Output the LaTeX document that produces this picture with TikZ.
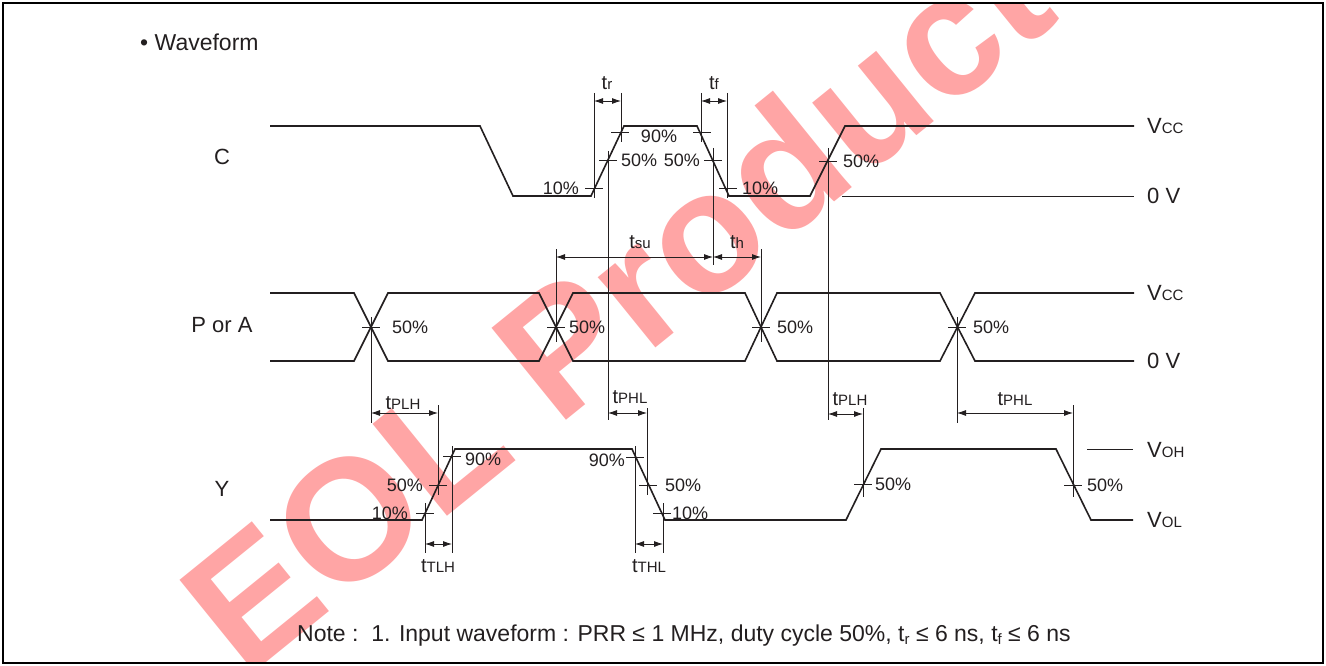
\documentclass[tikz,border=0pt]{standalone}
\usepackage{fontspec}
\setmainfont{Liberation Sans}
\usetikzlibrary{positioning,arrows.meta}
\definecolor{ink}{RGB}{35,31,32}
\definecolor{eol}{RGB}{255,165,165}
\tikzstyle{wave} = [draw=ink, line width=1.6pt, line join=miter]
\tikzstyle{guide} = [draw=ink, line width=0.8pt]
\tikzstyle{dim} = [guide, {Latex[length=9pt,width=6pt]}-{Latex[length=9pt,width=6pt]}]
\tikzstyle{lbl} = [inner sep=0pt, text=ink, font=\fontsize{22}{24}\selectfont]
\tikzstyle{pct} = [inner sep=0pt, text=ink, font=\fontsize{18}{20}\selectfont]
\tikzstyle{tlbl} = [inner sep=0pt, text=ink, anchor=base, font=\fontsize{20}{22}\selectfont]
\newcommand{\lo}[1]{{\fontsize{15}{15}\selectfont #1}}
\newcommand{\lvltick}[2]{\draw[guide] (#1-9,#2) -- (#1+9,#2);}

\begin{document}
\begin{tikzpicture}[x=1pt, y=-1pt]
    \useasboundingbox (0,0) rectangle (1326,666);
    % watermark
    \begin{scope}
        \clip (3,3) rectangle (1323,663);
        \node[rotate=39, anchor=base west, inner sep=0pt, text=eol, font=\fontsize{172}{172}\selectfont\bfseries] (eolmark) at (245,680) {EOL Products};
    \end{scope}
    \draw[line width=2pt] (3,3) rectangle (1323,663);
    \node[lbl, anchor=west, font=\fontsize{23}{25}\selectfont] (title) at (140,42) {• Waveform};

    % C
    \node[lbl, anchor=base] (sigC) at (222,165) {C};
    \draw[wave] (270,126) -- (480,126) -- (513,196) -- (591,196) -- (624,126) -- (697,126) -- (729,196) -- (810,196) -- (845,126) -- (1134,126);
    \draw[guide] (842,196) -- (1134,196);
    \node[lbl, anchor=west] (vccC) at (1147,126) {V\lo{CC}};
    \node[lbl, anchor=west] (gndC) at (1147,196) {0 V};

    \draw[guide] (594,93) -- (594,198);
    \draw[guide] (621,93) -- (621,142);
    \draw[guide] (701,93) -- (701,142);
    \draw[guide] (727,93) -- (727,198);
    \draw[guide] (608,151) -- (608,420);
    \draw[guide] (713,148) -- (713,265);
    \draw[guide] (828,148) -- (828,420);
    \lvltick{594}{188} \lvltick{608}{160} \lvltick{620}{132}
    \lvltick{702}{132} \lvltick{713}{160} \lvltick{728}{188}
    \lvltick{828}{161}

    \draw[dim] (594,101) -- (621,101);
    \node[tlbl] (tr) at (607,90) {t\lo{r}};
    \draw[dim] (701,101) -- (727,101);
    \node[tlbl] (tf) at (714,90) {t\lo{f}};

    \node[pct, anchor=east] (c10a) at (579,188) {10\%};
    \node[pct, anchor=west] (c50a) at (621,160) {50\%};
    \node[pct] (c90) at (659,136) {90\%};
    \node[pct, anchor=east] (c50b) at (700,160) {50\%};
    \node[pct, anchor=west] (c10b) at (742,188) {10\%};
    \node[pct, anchor=west] (c50c) at (843,161) {50\%};

    % P or A
    \node[lbl, anchor=base] (sigP) at (222,332) {P or A};
    \draw[wave] (270,293) -- (354,293) -- (388,361) -- (539,361) -- (573,293) -- (745,293) -- (777,361) -- (940,361) -- (975,293) -- (1134,293);
    \draw[wave] (270,361) -- (354,361) -- (388,293) -- (539,293) -- (573,361) -- (745,361) -- (777,293) -- (940,293) -- (975,361) -- (1134,361);
    \node[lbl, anchor=west] (vccP) at (1147,293) {V\lo{CC}};
    \node[lbl, anchor=west] (gndP) at (1147,361) {0 V};

    \draw[guide] (371,317) -- (371,423);
    \draw[guide] (556,249) -- (556,342);
    \draw[guide] (761,249) -- (761,342);
    \draw[guide] (957,317) -- (957,423);
    \foreach \xc in {371,556,761,957} {\lvltick{\xc}{327}}
    \foreach \xl in {392,569,777,973} {\node[pct, anchor=west] at (\xl,327) {50\%};}

    \draw[dim] (556,257) -- (713,257);
    \node[tlbl] (tsu) at (640,248) {t\lo{su}};
    \draw[dim] (713,257) -- (761,257);
    \node[tlbl] (th) at (737,248) {t\lo{h}};

    % Y
    \node[lbl, anchor=base] (sigY) at (222,496) {Y};
    \draw[wave] (270,520) -- (422,520) -- (455,449) -- (632,449) -- (665,520) -- (846,520) -- (881,449) -- (1056,449) -- (1091,520) -- (1133,520);
    \draw[guide] (1087,449) -- (1133,449);
    \node[lbl, anchor=west] (voh) at (1147,450) {V\lo{OH}};
    \node[lbl, anchor=west] (vol) at (1147,520) {V\lo{OL}};

    \draw[guide] (425,503) -- (425,553);
    \draw[guide] (438,405) -- (438,495);
    \draw[guide] (452,446) -- (452,553);
    \draw[guide] (635,446) -- (635,553);
    \draw[guide] (647,408) -- (647,495);
    \draw[guide] (663,503) -- (663,553);
    \draw[guide] (863,408) -- (863,497);
    \draw[guide] (1073,405) -- (1073,497);
    \lvltick{425}{513} \lvltick{438}{485} \lvltick{452}{456}
    \lvltick{635}{457} \lvltick{648}{485} \lvltick{662}{513}
    \lvltick{863}{484} \lvltick{1073}{485}

    \draw[dim] (371,413) -- (438,413);
    \node[tlbl] (tplhA) at (403,409) {t\lo{PLH}};
    \draw[dim] (608,413) -- (647,413);
    \node[tlbl] (tphlA) at (630,403) {t\lo{PHL}};
    \draw[dim] (425,544) -- (452,544);
    \node[tlbl] (ttlh) at (438,572) {t\lo{TLH}};
    \draw[dim] (635,544) -- (663,544);
    \node[tlbl] (tthl) at (649,572) {t\lo{THL}};
    \draw[dim] (828,414) -- (863,414);
    \node[tlbl] (tplhB) at (850,405) {t\lo{PLH}};
    \draw[dim] (957,413) -- (1073,413);
    \node[tlbl] (tphlB) at (1015,405) {t\lo{PHL}};

    \node[pct, anchor=west] (y90a) at (465,459) {90\%};
    \node[pct, anchor=east] (y50a) at (423,485) {50\%};
    \node[pct, anchor=east] (y10a) at (408,513) {10\%};
    \node[pct, anchor=east] (y90b) at (625,460) {90\%};
    \node[pct, anchor=west] (y50b) at (665,485) {50\%};
    \node[pct, anchor=west] (y10b) at (672,513) {10\%};
    \node[pct, anchor=west] (y50c) at (875,484) {50\%};
    \node[pct, anchor=west] (y50d) at (1087,485) {50\%};

    % note
    \node[lbl, anchor=west, font=\fontsize{23}{25}\selectfont] (note) at (297,636) {Note :\ \ 1. Input waveform : PRR ≤ 1 MHz, duty cycle 50\%, t\raisebox{-3pt}{\fontsize{15}{15}\selectfont r} ≤ 6 ns, t\raisebox{-3pt}{\fontsize{15}{15}\selectfont f} ≤ 6 ns};
\end{tikzpicture}
\end{document}
